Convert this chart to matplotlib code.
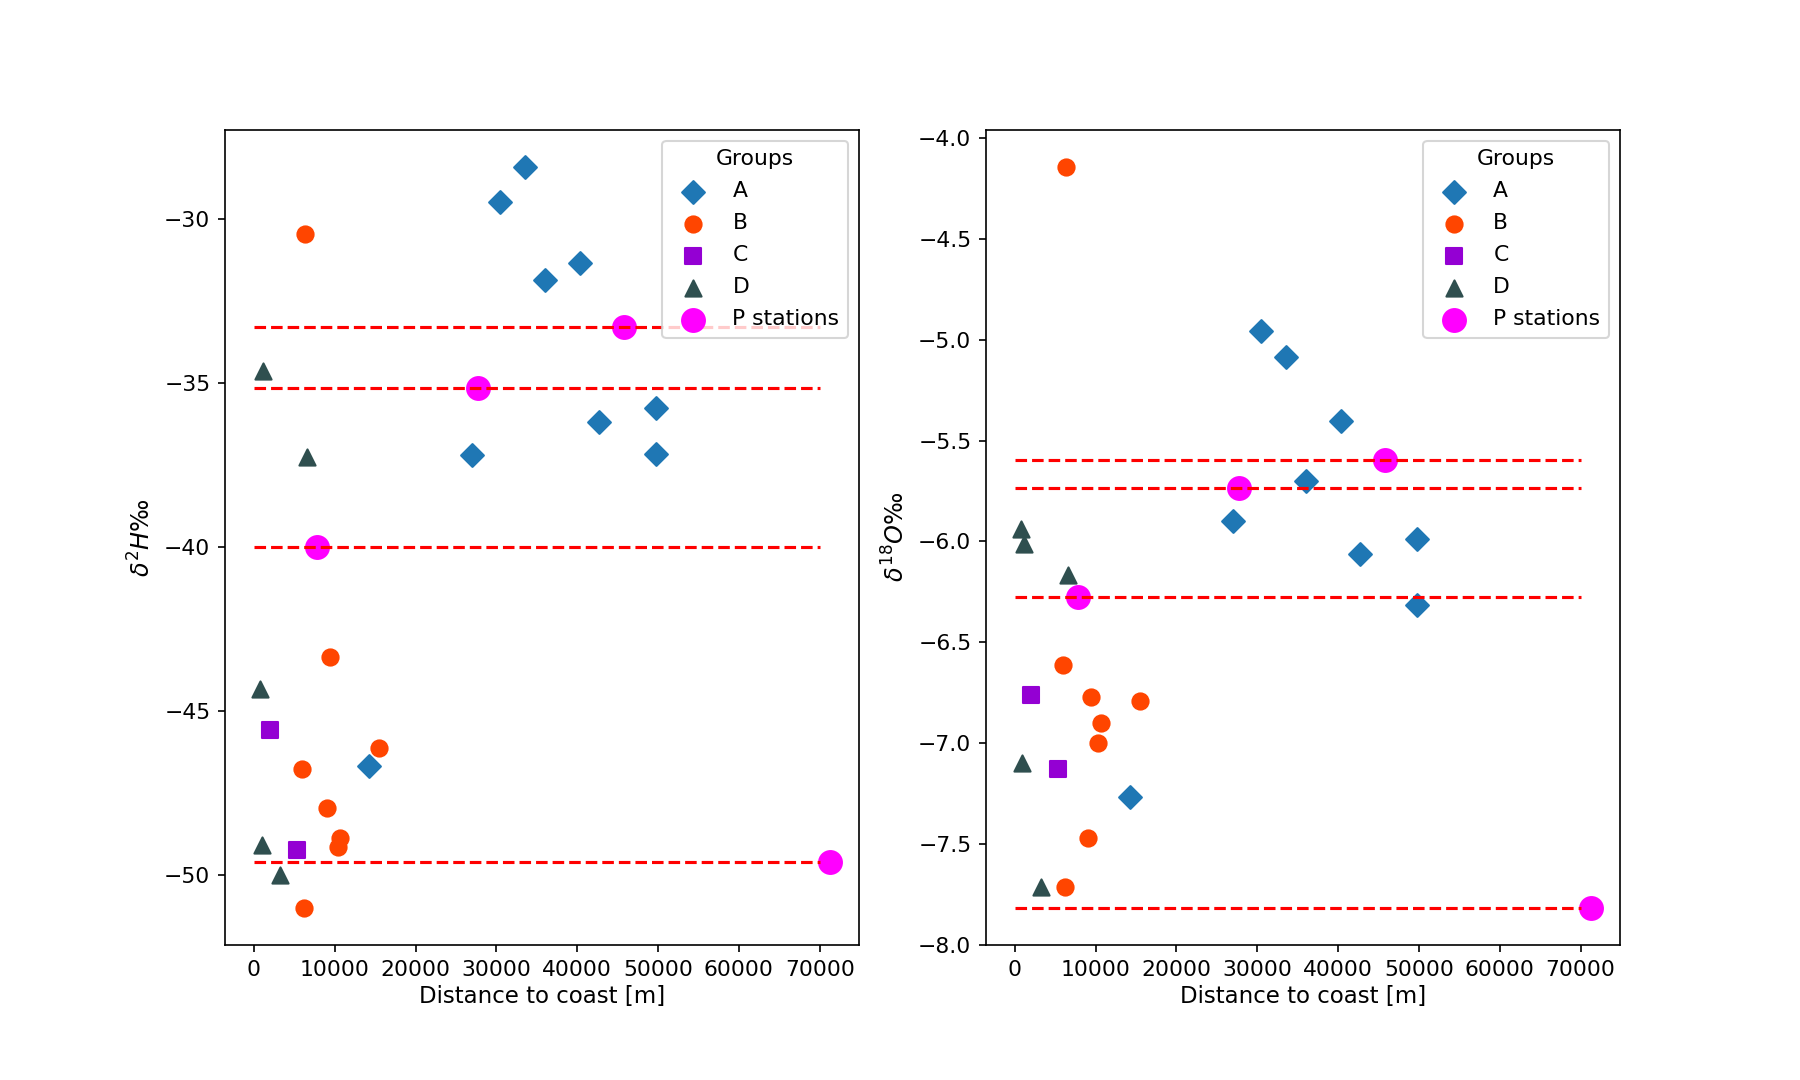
import matplotlib.pyplot as plt

# distance to coast [m], d2H, d18O per group
a_dist = [14300, 27000, 30400, 33600, 36050, 40300, 42700, 49750, 49750]
a_d2h = [-46.70, -37.19, -29.47, -28.39, -31.86, -31.33, -36.18, -35.75, -37.16]
a_d18o = [-7.27, -5.90, -4.956, -5.087, -5.70, -5.405, -6.065, -5.986, -6.316]

b_dist = [6000, 6200, 6350, 9050, 9400, 10350, 10700, 15500]
b_d2h = [-46.77, -51.02, -30.46, -47.96, -43.37, -49.16, -48.88, -46.14]
b_d18o = [-6.612, -7.716, -4.142, -7.471, -6.771, -6.999, -6.902, -6.794]

c_dist = [2000, 5350]
c_d2h = [-45.58, -49.26]
c_d18o = [-6.76, -7.13]

d_dist = [800, 950, 1150, 3200, 6550]
d_d2h = [-44.35, -49.09, -34.63, -50.0, -37.26]
d_d18o = [-5.94, -7.10, -6.014, -7.716, -6.168]

p_dist = [7800, 27700, 45750, 71300]
p_d2h = [-40.0, -35.16, -33.30, -49.61]
p_d18o = [-6.276, -5.735, -5.599, -7.818]

groups = [
    ("A", a_dist, a_d2h, a_d18o, "D", "tab:blue"),
    ("B", b_dist, b_d2h, b_d18o, "o", "orangered"),
    ("C", c_dist, c_d2h, c_d18o, "s", "darkviolet"),
    ("D", d_dist, d_d2h, d_d18o, "^", "darkslategray"),
]

fig, (ax1, ax2) = plt.subplots(1, 2, figsize=(12, 7.2))
fig.subplots_adjust(bottom=0.125)

for name, dist, h, o, mk, clr in groups:
    ax1.scatter(dist, h, marker=mk, c=clr, s=60, label=name)
    ax2.scatter(dist, o, marker=mk, c=clr, s=60, label=name)

ax1.scatter(p_dist, p_d2h, c="magenta", s=120, label="P stations")
ax2.scatter(p_dist, p_d18o, c="magenta", s=120, label="P stations")

for y in p_d2h:
    ax1.plot([0, 70000], [y, y], "r--")
for y in p_d18o:
    ax2.plot([0, 70000], [y, y], "r--")

for ax in (ax1, ax2):
    ax.set_xlabel("Distance to coast [m]", fontsize=11, labelpad=2.5)
    ax.tick_params(labelsize=10.5)
    ax.legend(title="Groups", loc="upper right", fontsize=10.5,
              title_fontsize=10.5, labelspacing=0.55)
ax1.set_ylabel(r"$\delta^2H‰$", fontsize=11.5)
ax2.set_ylabel(r"$\delta^{18}O‰$", fontsize=11.5)

plt.savefig("out.png", dpi=150)
